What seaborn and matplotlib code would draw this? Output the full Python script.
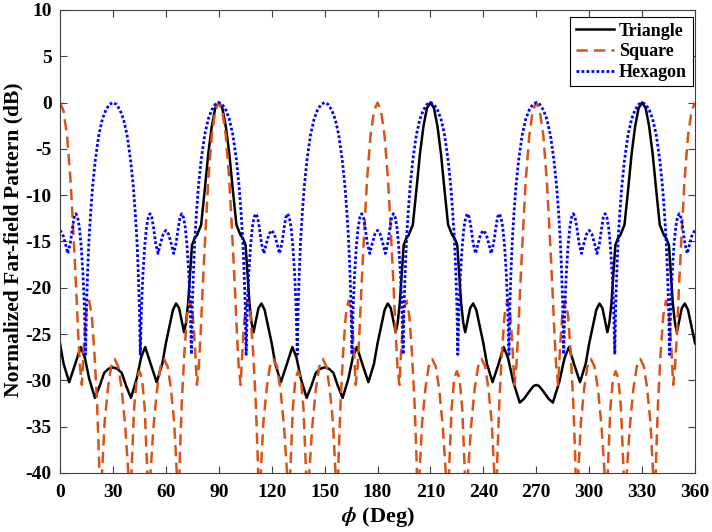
import matplotlib
matplotlib.use("Agg")
import matplotlib.pyplot as plt
import seaborn as sns

# Triangle array (black solid)
tri_deg = [
    0, 2, 5.2, 8.5, 11.7, 14, 16.5, 19.8, 22.5, 25, 27.5, 30, 32.5, 35, 37.5, 40.2,
    43.5, 46, 48.3, 51.5, 54.8, 58,
    60, 62, 64, 65.8, 67.5, 69, 70.3, 71.4, 72.6, 73.7, 74.8, 76.2, 77.7, 80, 82, 84, 86, 88, 90,
    92, 94, 96, 98, 100, 102.3, 103.8, 105.2, 106.3, 107.4, 108.6, 109.7, 111, 112.5, 114.2,
    116, 118, 120,
    122, 125.2, 128.5, 131.7, 134, 136.5, 139.8, 142.5, 145, 147.5, 150, 152.5, 155, 157.5,
    160.2, 163.5, 166, 168.3, 171.5, 174.8, 178,
    180, 182, 184, 185.8, 187.5, 189, 190.3, 191.4, 192.6, 193.7, 194.8, 196.2, 197.7, 200,
    202, 204, 206, 208, 210,
    212, 214, 216, 218, 220, 222.3, 223.8, 225.2, 226.3, 227.4, 228.6, 229.7, 231, 232.5,
    234.2, 236, 238, 240,
    242, 245.2, 248.5, 251.5, 254, 257, 260.6, 263, 266, 268.5, 270, 271.5, 274, 277, 279.4,
    283, 286, 288.5, 291.5, 294.8, 298,
    300, 302, 304, 305.8, 307.5, 309, 310.3, 311.4, 312.6, 313.7, 314.8, 316.2, 317.7, 320,
    322, 324, 326, 328, 330,
    332, 334, 336, 338, 340, 342.3, 343.8, 345.2, 346.3, 347.4, 348.6, 349.7, 351, 352.5,
    354.2, 356, 358, 360,
]
tri_db = [
    -26.0, -28.2, -30.2, -28.3, -26.4, -27.5, -29.8, -31.9, -30.6, -29.2, -28.75, -28.6,
    -28.75, -29.2, -30.6, -31.9, -29.8, -27.5, -26.4, -28.3, -30.2, -28.2,
    -26.0, -24.2, -22.4, -21.7, -22.2, -23.6, -24.8, -23.8, -21.7, -18.5, -15.4, -14.7, -14.3,
    -13.2, -9.5, -5.6, -2.6, -0.6, 0,
    -0.6, -2.6, -5.6, -9.5, -13.2, -14.3, -14.7, -15.4, -18.5, -21.7, -23.8, -24.8, -23.6,
    -22.2, -21.7, -22.4, -24.2, -26.0,
    -28.2, -30.2, -28.3, -26.4, -27.5, -29.8, -31.9, -30.6, -29.2, -28.75, -28.6, -28.75,
    -29.2, -30.6, -31.9, -29.8, -27.5, -26.4, -28.3, -30.2, -28.2,
    -26.0, -24.2, -22.4, -21.7, -22.2, -23.6, -24.8, -23.8, -21.7, -18.5, -15.4, -14.7, -14.3,
    -13.2, -9.5, -5.6, -2.6, -0.6, 0,
    -0.6, -2.6, -5.6, -9.5, -13.2, -14.3, -14.7, -15.4, -18.5, -21.7, -23.8, -24.8, -23.6,
    -22.2, -21.7, -22.4, -24.2, -26.0,
    -28.2, -30.2, -28.3, -26.4, -27.6, -30.2, -32.4, -32.0, -31.2, -30.6, -30.5, -30.6,
    -31.2, -32.0, -32.4, -30.2, -27.6, -26.4, -28.3, -30.2, -28.2,
    -26.0, -24.2, -22.4, -21.7, -22.2, -23.6, -24.8, -23.8, -21.7, -18.5, -15.4, -14.7, -14.3,
    -13.2, -9.5, -5.6, -2.6, -0.6, 0,
    -0.6, -2.6, -5.6, -9.5, -13.2, -14.3, -14.7, -15.4, -18.5, -21.7, -23.8, -24.8, -23.6,
    -22.2, -21.7, -22.4, -24.2, -26.0,
]

# Square array (orange dashed)
sq_deg = [
    0, 2, 4, 6, 7.5, 9, 10.3, 11.3, 12.4, 13.6, 15, 16.5, 18, 19.5, 21, 22.2, 23, 23.8, 25.3,
    27.2, 29, 31, 33, 35, 37, 38.7, 39.6, 40.5, 42, 43.5, 45, 46.5, 48, 49.5, 50.4, 51.3, 53,
    55, 57, 59, 61, 62.8, 64.7, 66.2, 67, 67.8, 69, 70.5, 72, 73.5, 75, 76.4, 77.6, 78.7, 79.7,
    81, 82.5, 84, 86, 88,
    90, 92, 94, 96, 97.5, 99, 100.3, 101.3, 102.4, 103.6, 105, 106.5, 108, 109.5, 111, 112.2,
    113, 113.8, 115.3, 117.2, 119, 121, 123, 125, 127, 128.7, 129.6, 130.5, 132, 133.5, 135,
    136.5, 138, 139.5, 140.4, 141.3, 143, 145, 147, 149, 151, 152.8, 154.7, 156.2, 157, 157.8,
    159, 160.5, 162, 163.5, 165, 166.4, 167.6, 168.7, 169.7, 171, 172.5, 174, 176, 178,
    180, 182, 184, 186, 187.5, 189, 190.3, 191.3, 192.4, 193.6, 195, 196.5, 198, 199.5, 201,
    202.2, 203, 203.8, 205.3, 207.2, 209, 211, 213, 215, 217, 218.7, 219.6, 220.5, 222, 223.5,
    225, 226.5, 228, 229.5, 230.4, 231.3, 233, 235, 237, 239, 241, 242.8, 244.7, 246.2, 247,
    247.8, 249, 250.5, 252, 253.5, 255, 256.4, 257.6, 258.7, 259.7, 261, 262.5, 264, 266, 268,
    270, 272, 274, 276, 277.5, 279, 280.3, 281.3, 282.4, 283.6, 285, 286.5, 288, 289.5, 291,
    292.2, 293, 293.8, 295.3, 297.2, 299, 301, 303, 305, 307, 308.7, 309.6, 310.5, 312, 313.5,
    315, 316.5, 318, 319.5, 320.4, 321.3, 323, 325, 327, 329, 331, 332.8, 334.7, 336.2, 337,
    337.8, 339, 340.5, 342, 343.5, 345, 346.4, 347.6, 348.7, 349.7, 351, 352.5, 354, 356, 358,
    360,
]
sq_db = [
    0, -0.9, -3.6, -8.5, -13.8, -19.5, -25.0, -28.5, -30.5, -26.0, -22.3, -21.4, -23.0, -27.0,
    -32.5, -39.0, -50.0, -40.0, -34.5, -30.8, -28.5, -27.7, -28.5, -31.0, -35.0, -40.0, -50.0,
    -40.0, -33.0, -29.8, -29.0, -29.8, -33.0, -40.0, -50.0, -40.0, -35.0, -31.0, -28.5, -27.7,
    -28.5, -30.8, -34.5, -40.0, -50.0, -39.0, -32.5, -27.0, -23.0, -21.4, -22.3, -26.0, -30.5,
    -28.5, -25.0, -19.5, -13.8, -8.5, -3.6, -0.9,
    0, -0.9, -3.6, -8.5, -13.8, -19.5, -25.0, -28.5, -30.5, -26.0, -22.3, -21.4, -23.0, -27.0,
    -32.5, -39.0, -50.0, -40.0, -34.5, -30.8, -28.5, -27.7, -28.5, -31.0, -35.0, -40.0, -50.0,
    -40.0, -33.0, -29.8, -29.0, -29.8, -33.0, -40.0, -50.0, -40.0, -35.0, -31.0, -28.5, -27.7,
    -28.5, -30.8, -34.5, -40.0, -50.0, -39.0, -32.5, -27.0, -23.0, -21.4, -22.3, -26.0, -30.5,
    -28.5, -25.0, -19.5, -13.8, -8.5, -3.6, -0.9,
    0, -0.9, -3.6, -8.5, -13.8, -19.5, -25.0, -28.5, -30.5, -26.0, -22.3, -21.4, -23.0, -27.0,
    -32.5, -39.0, -50.0, -40.0, -34.5, -30.8, -28.5, -27.7, -28.5, -31.0, -35.0, -40.0, -50.0,
    -40.0, -33.0, -29.8, -29.0, -29.8, -33.0, -40.0, -50.0, -40.0, -35.0, -31.0, -28.5, -27.7,
    -28.5, -30.8, -34.5, -40.0, -50.0, -39.0, -32.5, -27.0, -23.0, -21.4, -22.3, -26.0, -30.5,
    -28.5, -25.0, -19.5, -13.8, -8.5, -3.6, -0.9,
    0, -0.9, -3.6, -8.5, -13.8, -19.5, -25.0, -28.5, -30.5, -26.0, -22.3, -21.4, -23.0, -27.0,
    -32.5, -39.0, -50.0, -40.0, -34.5, -30.8, -28.5, -27.7, -28.5, -31.0, -35.0, -40.0, -50.0,
    -40.0, -33.0, -29.8, -29.0, -29.8, -33.0, -40.0, -50.0, -40.0, -35.0, -31.0, -28.5, -27.7,
    -28.5, -30.8, -34.5, -40.0, -50.0, -39.0, -32.5, -27.0, -23.0, -21.4, -22.3, -26.0, -30.5,
    -28.5, -25.0, -19.5, -13.8, -8.5, -3.6, -0.9,
    0,
]

# Hexagon array (blue dotted)
hex_deg = [
    0, 1.5, 3, 4.4, 5.8, 7, 8, 9, 10, 11, 12, 13, 13.8, 14.5, 15, 15.7, 16.5, 17.5, 18.5, 20,
    22, 24, 26, 28, 30, 32, 34, 36, 38, 40, 41.5, 42.5, 43.5, 44.3, 45, 45.5, 46.2, 47, 48, 49,
    50, 51, 52, 53, 54.2, 55.6, 57, 58.5,
    60, 61.5, 63, 64.4, 65.8, 67, 68, 69, 70, 71, 72, 73, 73.8, 74.5, 75, 75.7, 76.5, 77.5,
    78.5, 80, 82, 84, 86, 88, 90, 92, 94, 96, 98, 100, 101.5, 102.5, 103.5, 104.3, 105, 105.5,
    106.2, 107, 108, 109, 110, 111, 112, 113, 114.2, 115.6, 117, 118.5,
    120, 121.5, 123, 124.4, 125.8, 127, 128, 129, 130, 131, 132, 133, 133.8, 134.5, 135, 135.7,
    136.5, 137.5, 138.5, 140, 142, 144, 146, 148, 150, 152, 154, 156, 158, 160, 161.5, 162.5,
    163.5, 164.3, 165, 165.5, 166.2, 167, 168, 169, 170, 171, 172, 173, 174.2, 175.6, 177, 178.5,
    180, 181.5, 183, 184.4, 185.8, 187, 188, 189, 190, 191, 192, 193, 193.8, 194.5, 195, 195.7,
    196.5, 197.5, 198.5, 200, 202, 204, 206, 208, 210, 212, 214, 216, 218, 220, 221.5, 222.5,
    223.5, 224.3, 225, 225.5, 226.2, 227, 228, 229, 230, 231, 232, 233, 234.2, 235.6, 237, 238.5,
    240, 241.5, 243, 244.4, 245.8, 247, 248, 249, 250, 251, 252, 253, 253.8, 254.5, 255, 255.7,
    256.5, 257.5, 258.5, 260, 262, 264, 266, 268, 270, 272, 274, 276, 278, 280, 281.5, 282.5,
    283.5, 284.3, 285, 285.5, 286.2, 287, 288, 289, 290, 291, 292, 293, 294.2, 295.6, 297, 298.5,
    300, 301.5, 303, 304.4, 305.8, 307, 308, 309, 310, 311, 312, 313, 313.8, 314.5, 315, 315.7,
    316.5, 317.5, 318.5, 320, 322, 324, 326, 328, 330, 332, 334, 336, 338, 340, 341.5, 342.5,
    343.5, 344.3, 345, 345.5, 346.2, 347, 348, 349, 350, 351, 352, 353, 354.2, 355.6, 357, 358.5,
    360,
]
hex_db = [
    -13.8, -14.2, -15.2, -16.3, -15.2, -13.6, -12.4, -12.0, -12.4, -13.5, -15.5, -18.5, -22.0,
    -27.2, -22.0, -18.0, -14.5, -11.5, -9.0, -6.2, -3.5, -1.8, -0.8, -0.2, 0, -0.2, -0.8, -1.8,
    -3.5, -6.2, -9.0, -11.5, -14.5, -18.0, -22.0, -27.2, -22.0, -18.5, -15.5, -13.5, -12.4,
    -12.0, -12.4, -13.5, -15.2, -16.3, -15.2, -14.2,
    -13.8, -14.2, -15.2, -16.3, -15.2, -13.6, -12.4, -12.0, -12.4, -13.5, -15.5, -18.5, -22.0,
    -27.2, -22.0, -18.0, -14.5, -11.5, -9.0, -6.2, -3.5, -1.8, -0.8, -0.2, 0, -0.2, -0.8, -1.8,
    -3.5, -6.2, -9.0, -11.5, -14.5, -18.0, -22.0, -27.2, -22.0, -18.5, -15.5, -13.5, -12.4,
    -12.0, -12.4, -13.5, -15.2, -16.3, -15.2, -14.2,
    -13.8, -14.2, -15.2, -16.3, -15.2, -13.6, -12.4, -12.0, -12.4, -13.5, -15.5, -18.5, -22.0,
    -27.2, -22.0, -18.0, -14.5, -11.5, -9.0, -6.2, -3.5, -1.8, -0.8, -0.2, 0, -0.2, -0.8, -1.8,
    -3.5, -6.2, -9.0, -11.5, -14.5, -18.0, -22.0, -27.2, -22.0, -18.5, -15.5, -13.5, -12.4,
    -12.0, -12.4, -13.5, -15.2, -16.3, -15.2, -14.2,
    -13.8, -14.2, -15.2, -16.3, -15.2, -13.6, -12.4, -12.0, -12.4, -13.5, -15.5, -18.5, -22.0,
    -27.2, -22.0, -18.0, -14.5, -11.5, -9.0, -6.2, -3.5, -1.8, -0.8, -0.2, 0, -0.2, -0.8, -1.8,
    -3.5, -6.2, -9.0, -11.5, -14.5, -18.0, -22.0, -27.2, -22.0, -18.5, -15.5, -13.5, -12.4,
    -12.0, -12.4, -13.5, -15.2, -16.3, -15.2, -14.2,
    -13.8, -14.2, -15.2, -16.3, -15.2, -13.6, -12.4, -12.0, -12.4, -13.5, -15.5, -18.5, -22.0,
    -27.2, -22.0, -18.0, -14.5, -11.5, -9.0, -6.2, -3.5, -1.8, -0.8, -0.2, 0, -0.2, -0.8, -1.8,
    -3.5, -6.2, -9.0, -11.5, -14.5, -18.0, -22.0, -27.2, -22.0, -18.5, -15.5, -13.5, -12.4,
    -12.0, -12.4, -13.5, -15.2, -16.3, -15.2, -14.2,
    -13.8, -14.2, -15.2, -16.3, -15.2, -13.6, -12.4, -12.0, -12.4, -13.5, -15.5, -18.5, -22.0,
    -27.2, -22.0, -18.0, -14.5, -11.5, -9.0, -6.2, -3.5, -1.8, -0.8, -0.2, 0, -0.2, -0.8, -1.8,
    -3.5, -6.2, -9.0, -11.5, -14.5, -18.0, -22.0, -27.2, -22.0, -18.5, -15.5, -13.5, -12.4,
    -12.0, -12.4, -13.5, -15.2, -16.3, -15.2, -14.2,
    -13.8,
]

x_ticks = list(range(0, 361, 30))
y_ticks = list(range(-40, 11, 5))

plt.rcParams["font.family"] = "Liberation Serif"
plt.rcParams["font.weight"] = "bold"
plt.rcParams["mathtext.fontset"] = "stix"
plt.rcParams["axes.unicode_minus"] = False

fig = plt.figure(figsize=(7.12, 5.32), dpi=100)
ax = fig.add_axes([0.0843, 0.111, 0.8919, 0.8703])

sns.lineplot(x=tri_deg, y=tri_db, ax=ax, color="black", linewidth=1.8,
             label="Triangle", estimator=None, sort=False)
sns.lineplot(x=sq_deg, y=sq_db, ax=ax, color="#D95319", linewidth=1.8,
             linestyle=(0, (4.5, 2.5)), label="Square", estimator=None, sort=False)
sns.lineplot(x=hex_deg, y=hex_db, ax=ax, color="#0000FF", linewidth=2.0,
             linestyle=(0, (1, 0.8)), label="Hexagon", estimator=None, sort=False)

ax.set_xlim(0, 360)
ax.set_ylim(-40, 10)
ax.set_xticks(x_ticks)
ax.set_yticks(y_ticks)

ax.tick_params(direction="in", length=5, width=0.8, top=True, right=True,
               labelsize=14, color="#404040")
ax.tick_params(axis="x", pad=8)
ax.tick_params(axis="y", pad=6)
for s in ax.spines.values():
    s.set_linewidth(0.8)
    s.set_color("#404040")

ax.set_xlabel(r"$\phi$ (Deg)", fontsize=16, fontweight="bold")
ax.set_ylabel("Normalized Far-field Pattern (dB)", fontsize=15.5, fontweight="bold")
ax.xaxis.set_label_coords(0.5, -0.07)
ax.yaxis.set_label_coords(-0.058, 0.503)

leg = ax.legend(loc="upper right", bbox_to_anchor=(0.996, 0.984), borderaxespad=0,
                fancybox=False, edgecolor="black", framealpha=1,
                prop={"size": 13, "weight": "bold"}, handlelength=2.1,
                handletextpad=0.3, labelspacing=0.2, borderpad=0.3)
leg.get_frame().set_linewidth(0.8)

fig.savefig("out.png", dpi=100)
